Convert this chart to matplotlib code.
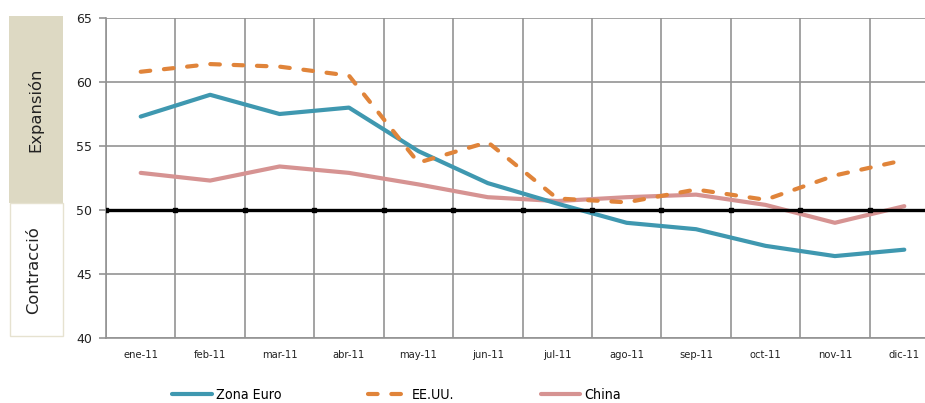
import matplotlib
matplotlib.use("Agg")
import matplotlib.pyplot as plt
from matplotlib.patches import Rectangle
from matplotlib.font_manager import FontProperties
import numpy as np

months = ["ene-11", "feb-11", "mar-11", "abr-11", "may-11", "jun-11",
          "jul-11", "ago-11", "sep-11", "oct-11", "nov-11", "dic-11"]
zona_euro = [57.3, 59.0, 57.5, 58.0, 54.6, 52.1, 50.5, 49.0, 48.5, 47.2, 46.4, 46.9]
eeuu = [60.8, 61.4, 61.2, 60.5, 53.7, 55.3, 50.9, 50.6, 51.6, 50.8, 52.7, 53.9]
china = [52.9, 52.3, 53.4, 52.9, 52.0, 51.0, 50.7, 51.0, 51.2, 50.4, 49.0, 50.3]
y_ticks = [40, 45, 50, 55, 60, 65]
threshold = 50

W, H = 925, 403
fig = plt.figure(figsize=(W / 100, H / 100), dpi=100)
ax = fig.add_axes([106 / W, 1 - 338 / H, (939 - 106) / W, (338 - 18) / H])

x = np.arange(len(months))
grid_c = "#939393"

ax.plot(x, zona_euro, color="#3F98B0", lw=3.0, solid_capstyle="round", zorder=4, label="Zona Euro")
ax.plot(x, eeuu, color="#E0843A", lw=3.0, dashes=(2.3, 3.3), dash_capstyle="round", zorder=4, label="EE.UU.")
ax.plot(x, china, color="#D69392", lw=3.0, solid_capstyle="round", zorder=3, label="China")

# threshold line with square markers at category boundaries
bounds = np.arange(-0.5, len(months) + 0.5, 1.0)
ax.axhline(threshold, color="black", lw=2.4, zorder=5)
ax.plot(bounds, [threshold] * len(bounds), ls="none", marker="s", ms=3.2, color="black", zorder=5)

ax.set_xlim(-0.5, len(months) - 0.5)
ax.set_ylim(min(y_ticks), max(y_ticks))
ax.set_yticks(y_ticks)
ax.set_xticks(x)
ax.set_xticklabels(months, fontsize=7.2, color="#222222")
ax.set_xticks(bounds, minor=True)
ax.tick_params(axis="x", which="major", length=0, pad=9)
ax.tick_params(axis="x", which="minor", length=0)
ax.tick_params(axis="y", length=5, color=grid_c, width=1.2, labelsize=9, pad=5, labelcolor="#222222")
ax.grid(True, axis="y", which="major", color=grid_c, lw=1.2, zorder=1)
ax.grid(True, axis="x", which="minor", color=grid_c, lw=1.2, zorder=1)
for s in ["top", "right"]:
    ax.spines[s].set_visible(False)
for s in ["left", "bottom"]:
    ax.spines[s].set_color(grid_c)
    ax.spines[s].set_linewidth(1.2)

# side boxes
fig.patches.append(Rectangle((9 / W, 1 - 203 / H), 54 / W, 187 / H, transform=fig.transFigure,
                             facecolor="#DDD9C3", edgecolor="none", zorder=0))
fig.patches.append(Rectangle((10 / W, 1 - 336 / H), 53 / W, 133 / H, transform=fig.transFigure,
                             facecolor="white", edgecolor="#E6E2D0", lw=1.0, zorder=0))
fig.text(35 / W, 1 - 110 / H, "Expansión", rotation=90, ha="center", va="center", fontsize=11.8, color="#222222")
fig.text(34 / W, 1 - 270 / H, "Contracció", rotation=90, ha="center", va="center", fontsize=11.8, color="#222222")

handles, labels = ax.get_legend_handles_labels()
prop = FontProperties(family="DejaVu Sans", stretch="condensed", size=10.2)
fig.legend(handles, labels, loc="center left", bbox_to_anchor=(172 / W, 1 - 395 / H), ncol=3,
           frameon=False, handlelength=2.8, handletextpad=0.3, columnspacing=6.1,
           borderaxespad=0, borderpad=0, prop=prop)

fig.savefig("out.png", dpi=100)
